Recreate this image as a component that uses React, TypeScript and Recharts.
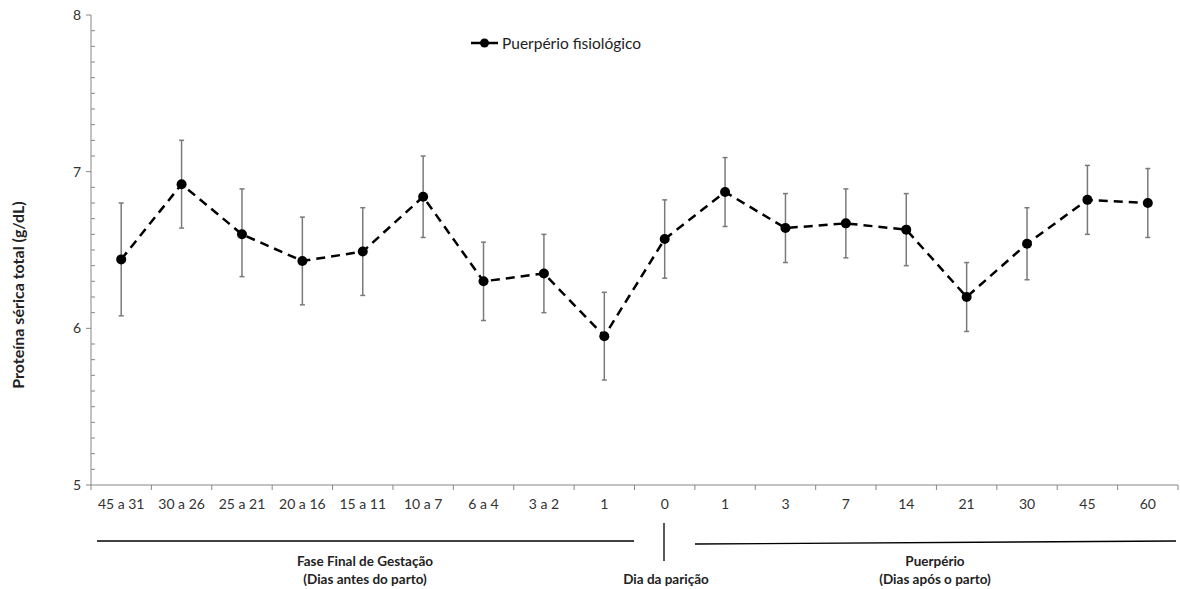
import React from 'react';
import { LineChart, Line, XAxis, YAxis, ErrorBar, Legend } from 'recharts';

const categories = ['45 a 31', '30 a 26', '25 a 21', '20 a 16', '15 a 11', '10 a 7', '6 a 4', '3 a 2', '1', '0', '1', '3', '7', '14', '21', '30', '45', '60'];
const means = [6.44, 6.92, 6.60, 6.43, 6.49, 6.84, 6.30, 6.35, 5.95, 6.57, 6.87, 6.64, 6.67, 6.63, 6.20, 6.54, 6.82, 6.80];
const upper = [6.80, 7.20, 6.89, 6.71, 6.77, 7.10, 6.55, 6.60, 6.23, 6.82, 7.09, 6.86, 6.89, 6.86, 6.42, 6.77, 7.04, 7.02];
const lower = [6.08, 6.64, 6.33, 6.15, 6.21, 6.58, 6.05, 6.10, 5.67, 6.32, 6.65, 6.42, 6.45, 6.40, 5.98, 6.31, 6.60, 6.58];
const yMajorTicks = [5, 6, 7, 8];
const yTicks = Array.from({ length: 31 }, (_, i) => (50 + i) / 10);
const xTicks = Array.from({ length: 37 }, (_, i) => i / 2);

const seriesName = 'Puerpério fisiológico';
const yTitle = 'Proteína sérica total (g/dL)';

const data = categories.map((c, i) => ({
  x: i + 0.5,
  name: c,
  value: means[i],
  err: [+(means[i] - lower[i]).toFixed(3), +(upper[i] - means[i]).toFixed(3)],
}));

const FONT = 'Lato, "Open Sans", sans-serif';
const AXIS = '#868686';

const XTick = (props: any) => {
  const { x, y, payload } = props;
  const v = payload.value;
  if (Number.isInteger(v)) {
    return <line x1={x} x2={x} y1={y} y2={y + 5} stroke={AXIS} strokeWidth={1} />;
  }
  const label = categories[Math.floor(v)];
  return (
    <text x={x} y={y + 24} textAnchor="middle" fontSize={14} fontFamily={FONT} fill="#333">
      {label}
    </text>
  );
};

const YTick = (props: any) => {
  const { x, y, payload } = props;
  const v = payload.value;
  const major = yMajorTicks.some((t) => Math.abs(t - v) < 1e-6);
  if (major) {
    return (
      <g>
        <line x1={x - 5} x2={x} y1={y} y2={y} stroke={AXIS} strokeWidth={1} />
        <text x={x - 10} y={y + 5} textAnchor="end" fontSize={14} fontFamily={FONT} fill="#333">
          {v}
        </text>
      </g>
    );
  }
  return <line x1={x} x2={x + 4} y1={y} y2={y} stroke={AXIS} strokeWidth={1} />;
};

const LegendContent = () => (
  <div style={{ display: 'flex', alignItems: 'center', fontFamily: FONT, fontSize: 15.5, color: '#222', whiteSpace: 'nowrap' }}>
    <svg width={28} height={14} style={{ marginRight: 3 }}>
      <line x1={0} x2={27} y1={7} y2={7} stroke="#000" strokeWidth={2.5} />
      <circle cx={13.5} cy={7} r={4.5} fill="#000" />
    </svg>
    <span>{seriesName}</span>
  </div>
);

export default function App() {
  return (
    <div style={{ position: 'absolute', left: 0, top: 0, width: 1180, height: 589, background: '#fff' }}>
      <LineChart width={1180} height={589} data={data} margin={{ top: 15, right: 2, bottom: 74, left: 0 }}>
        <XAxis
          dataKey="x"
          type="number"
          domain={[0, 18]}
          ticks={xTicks}
          interval={0}
          tickLine={false}
          tickSize={0}
          tickMargin={0}
          height={30}
          axisLine={{ stroke: AXIS, strokeWidth: 1 }}
          tick={<XTick />}
          allowDataOverflow
        />
        <YAxis
          type="number"
          domain={[5, 8]}
          ticks={yTicks}
          interval={0}
          width={91}
          tickSize={0}
          tickMargin={0}
          tickLine={false}
          axisLine={{ stroke: AXIS, strokeWidth: 1 }}
          tick={<YTick />}
          allowDataOverflow
        />
        <Legend
          layout="horizontal"
          verticalAlign="middle"
          content={<LegendContent />}
          wrapperStyle={{ position: 'absolute', top: 34, left: 471, width: 220, height: 18 }}
        />
        <Line
          type="linear"
          dataKey="value"
          name={seriesName}
          stroke="#000"
          strokeWidth={2.5}
          strokeDasharray="9 6"
          dot={{ r: 5, fill: '#000', stroke: '#000', strokeWidth: 0, strokeDasharray: '' }}
          isAnimationActive={false}
        >
          <ErrorBar dataKey="err" width={2.5} stroke="#7a7a7a" strokeWidth={1.5} direction="y" />
        </Line>
      </LineChart>
      <svg width={1180} height={589} style={{ position: 'absolute', left: 0, top: 0, pointerEvents: 'none' }}>
        <text
          transform="translate(24,295) rotate(-90)"
          textAnchor="middle"
          fontSize={16}
          fontWeight="bold"
          fontFamily={FONT}
          fill="#222"
        >
          {yTitle}
        </text>
        <line x1={97} x2={634} y1={541} y2={541} stroke="#000" strokeWidth={1.3} />
        <line x1={664} x2={664} y1={523} y2={561} stroke="#000" strokeWidth={1.3} />
        <line x1={695} x2={1176} y1={544} y2={541} stroke="#000" strokeWidth={1.3} />
        <g fontFamily={FONT} fontWeight="bold" fontSize={13.5} fill="#222" textAnchor="middle">
          <text x={365} y={566}>Fase Final de Gestação</text>
          <text x={365} y={584}>(Dias antes do parto)</text>
          <text x={666} y={584}>Dia da parição</text>
          <text x={935} y={566}>Puerpério</text>
          <text x={935} y={584}>(Dias após o parto)</text>
        </g>
      </svg>
    </div>
  );
}
